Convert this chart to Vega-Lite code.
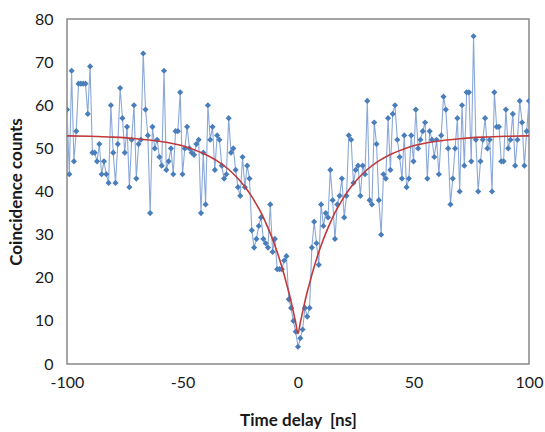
{
  "$schema": "https://vega.github.io/schema/vega-lite/v6.json",
  "width": 462,
  "height": 345,
  "autosize": {"type": "none"},
  "padding": {"left": 67, "top": 19, "right": 16, "bottom": 68},
  "background": "white",
  "config": {
    "view": {"stroke": "#888888", "strokeWidth": 1.5},
    "font": "Lato",
    "axis": {"grid": false, "domain": false, "ticks": false, "labelFlush": false, "labelFont": "Lato", "titleFont": "Lato", "labelColor": "#1a1a1a", "titleColor": "#1a1a1a", "labelFontSize": 16, "titleFontSize": 17, "titleFontWeight": "bold", "labelExpr": "datum.value + ''"}
  },
  "datasets": {
    "obs": [
      {"t": -100, "c": 59}, {"t": -99, "c": 44}, {"t": -98, "c": 68}, {"t": -97, "c": 47}, {"t": -96, "c": 54},
      {"t": -95, "c": 65}, {"t": -94, "c": 65}, {"t": -93, "c": 65}, {"t": -92, "c": 65}, {"t": -91, "c": 58},
      {"t": -90, "c": 69}, {"t": -89, "c": 49}, {"t": -88, "c": 49}, {"t": -87, "c": 47}, {"t": -86, "c": 51},
      {"t": -85, "c": 44}, {"t": -84, "c": 47}, {"t": -83, "c": 44}, {"t": -82, "c": 42}, {"t": -81, "c": 60},
      {"t": -80, "c": 49}, {"t": -79, "c": 42}, {"t": -78, "c": 51}, {"t": -77, "c": 64}, {"t": -76, "c": 57},
      {"t": -75, "c": 49}, {"t": -74, "c": 55}, {"t": -73, "c": 41}, {"t": -72, "c": 52}, {"t": -71, "c": 60},
      {"t": -70, "c": 43}, {"t": -69, "c": 51}, {"t": -68, "c": 52}, {"t": -67, "c": 72}, {"t": -66, "c": 59},
      {"t": -65, "c": 53}, {"t": -64, "c": 35}, {"t": -63, "c": 55}, {"t": -62, "c": 50}, {"t": -61, "c": 52},
      {"t": -60, "c": 48}, {"t": -59, "c": 46}, {"t": -58, "c": 68}, {"t": -57, "c": 45}, {"t": -56, "c": 47},
      {"t": -55, "c": 50}, {"t": -54, "c": 44}, {"t": -53, "c": 54}, {"t": -52, "c": 54}, {"t": -51, "c": 63},
      {"t": -50, "c": 44}, {"t": -49, "c": 50}, {"t": -48, "c": 55}, {"t": -47, "c": 50}, {"t": -46, "c": 49},
      {"t": -45, "c": 48.5}, {"t": -44, "c": 51}, {"t": -43, "c": 52}, {"t": -42, "c": 35}, {"t": -41, "c": 49},
      {"t": -40, "c": 37}, {"t": -39, "c": 60}, {"t": -38, "c": 52}, {"t": -37, "c": 55}, {"t": -36, "c": 45},
      {"t": -35, "c": 53}, {"t": -34, "c": 52}, {"t": -33, "c": 46}, {"t": -32, "c": 43}, {"t": -31, "c": 44},
      {"t": -30, "c": 57}, {"t": -29, "c": 49}, {"t": -28, "c": 50}, {"t": -27, "c": 45}, {"t": -26, "c": 41},
      {"t": -25, "c": 39}, {"t": -24, "c": 48}, {"t": -23, "c": 41}, {"t": -22, "c": 46}, {"t": -21, "c": 43},
      {"t": -20, "c": 31}, {"t": -19, "c": 27}, {"t": -18, "c": 29}, {"t": -17, "c": 32}, {"t": -16, "c": 34},
      {"t": -15, "c": 29}, {"t": -14, "c": 28}, {"t": -13, "c": 27}, {"t": -12, "c": 37}, {"t": -11, "c": 26},
      {"t": -10, "c": 29}, {"t": -9, "c": 22}, {"t": -8, "c": 22}, {"t": -7, "c": 22}, {"t": -6, "c": 24},
      {"t": -5, "c": 25}, {"t": -4, "c": 15}, {"t": -3, "c": 13}, {"t": -2, "c": 10}, {"t": -1, "c": 7.5},
      {"t": 0, "c": 4}, {"t": 1, "c": 6}, {"t": 2, "c": 8}, {"t": 3, "c": 13}, {"t": 4, "c": 11},
      {"t": 5, "c": 13}, {"t": 6, "c": 27}, {"t": 7, "c": 33}, {"t": 8, "c": 28}, {"t": 9, "c": 23},
      {"t": 10, "c": 37}, {"t": 11, "c": 32}, {"t": 12, "c": 35}, {"t": 13, "c": 34}, {"t": 14, "c": 45},
      {"t": 15, "c": 38}, {"t": 16, "c": 29}, {"t": 17, "c": 37}, {"t": 18, "c": 39}, {"t": 19, "c": 43},
      {"t": 20, "c": 34}, {"t": 21, "c": 39}, {"t": 22, "c": 53}, {"t": 23, "c": 52}, {"t": 24, "c": 42},
      {"t": 25, "c": 45}, {"t": 26, "c": 46}, {"t": 27, "c": 39}, {"t": 28, "c": 46}, {"t": 29, "c": 44},
      {"t": 30, "c": 61}, {"t": 31, "c": 38}, {"t": 32, "c": 37}, {"t": 33, "c": 56}, {"t": 34, "c": 51},
      {"t": 35, "c": 38}, {"t": 36, "c": 30}, {"t": 37, "c": 44}, {"t": 38, "c": 43}, {"t": 39, "c": 57},
      {"t": 40, "c": 45}, {"t": 41, "c": 58}, {"t": 42, "c": 60}, {"t": 43, "c": 52}, {"t": 44, "c": 48},
      {"t": 45, "c": 43}, {"t": 46, "c": 53}, {"t": 47, "c": 41}, {"t": 48, "c": 43}, {"t": 49, "c": 53},
      {"t": 50, "c": 47}, {"t": 51, "c": 59}, {"t": 52, "c": 50}, {"t": 53, "c": 52}, {"t": 54, "c": 54},
      {"t": 55, "c": 56}, {"t": 56, "c": 43}, {"t": 57, "c": 54}, {"t": 58, "c": 52}, {"t": 59, "c": 48},
      {"t": 60, "c": 52}, {"t": 61, "c": 44}, {"t": 62, "c": 53}, {"t": 63, "c": 62}, {"t": 64, "c": 59},
      {"t": 65, "c": 50}, {"t": 66, "c": 37}, {"t": 67, "c": 43}, {"t": 68, "c": 50}, {"t": 69, "c": 57},
      {"t": 70, "c": 40}, {"t": 71, "c": 60}, {"t": 72, "c": 46}, {"t": 73, "c": 63}, {"t": 74, "c": 63},
      {"t": 75, "c": 47}, {"t": 76, "c": 76}, {"t": 77, "c": 52}, {"t": 78, "c": 40}, {"t": 79, "c": 47},
      {"t": 80, "c": 52}, {"t": 81, "c": 57}, {"t": 82, "c": 50}, {"t": 83, "c": 52}, {"t": 84, "c": 40},
      {"t": 85, "c": 63}, {"t": 86, "c": 55}, {"t": 87, "c": 55}, {"t": 88, "c": 47}, {"t": 89, "c": 47},
      {"t": 90, "c": 59}, {"t": 91, "c": 50}, {"t": 92, "c": 52}, {"t": 93, "c": 58}, {"t": 94, "c": 46},
      {"t": 95, "c": 52}, {"t": 96, "c": 61}, {"t": 97, "c": 56}, {"t": 98, "c": 46}, {"t": 99, "c": 54},
      {"t": 100, "c": 61}
    ],
    "fit": [
      {"t": -100, "f": 52.9}, {"t": -90, "f": 52.8}, {"t": -80, "f": 52.6}, {"t": -70, "f": 52.25}, {"t": -60, "f": 51.65},
      {"t": -50, "f": 50.6}, {"t": -45, "f": 49.7}, {"t": -40, "f": 48.6}, {"t": -35, "f": 47.1}, {"t": -30, "f": 45.1},
      {"t": -26, "f": 43.0}, {"t": -23, "f": 41.1}, {"t": -20, "f": 38.8}, {"t": -18, "f": 37.0}, {"t": -16, "f": 35.1},
      {"t": -14, "f": 32.8}, {"t": -12, "f": 30.3}, {"t": -10, "f": 27.5}, {"t": -8, "f": 24.3}, {"t": -6, "f": 20.7},
      {"t": -5, "f": 18.7}, {"t": -4, "f": 16.7}, {"t": -3, "f": 14.5}, {"t": -2, "f": 12.1}, {"t": -1, "f": 9.6},
      {"t": 0, "f": 7.0},
      {"t": 1, "f": 9.6}, {"t": 2, "f": 12.1}, {"t": 3, "f": 14.5}, {"t": 4, "f": 16.7}, {"t": 5, "f": 18.7},
      {"t": 6, "f": 20.7}, {"t": 8, "f": 24.3}, {"t": 10, "f": 27.5}, {"t": 12, "f": 30.3}, {"t": 14, "f": 32.8},
      {"t": 16, "f": 35.1}, {"t": 18, "f": 37.0}, {"t": 20, "f": 38.8}, {"t": 23, "f": 41.1}, {"t": 26, "f": 43.0},
      {"t": 30, "f": 45.1}, {"t": 35, "f": 47.1}, {"t": 40, "f": 48.6}, {"t": 45, "f": 49.7}, {"t": 50, "f": 50.6},
      {"t": 60, "f": 51.65}, {"t": 70, "f": 52.25}, {"t": 80, "f": 52.6}, {"t": 90, "f": 52.8}, {"t": 100, "f": 52.9}
    ]
  },
  "layer": [
    {
      "data": {"name": "obs"},
      "mark": {"type": "line", "color": "#8aa8d8", "strokeWidth": 1.1, "clip": true},
      "encoding": {
        "x": {"field": "t", "type": "quantitative", "scale": {"domain": [-100, 100], "nice": false, "zero": false},
              "axis": {"values": [-100, -50, 0, 50, 100], "title": "Time delay\u00a0\u00a0[ns]", "labelPadding": 10, "titlePadding": 22}},
        "y": {"field": "c", "type": "quantitative", "scale": {"domain": [0, 80], "nice": false},
              "axis": {"values": [0, 10, 20, 30, 40, 50, 60, 70, 80], "title": "Coincidence counts", "labelPadding": 14, "titlePadding": 9}}
      }
    },
    {
      "data": {"name": "obs"},
      "mark": {"type": "point", "shape": "diamond", "filled": true, "color": "#4a7ebb", "size": 38, "opacity": 1, "clip": true},
      "encoding": {
        "x": {"field": "t", "type": "quantitative"},
        "y": {"field": "c", "type": "quantitative"}
      }
    },
    {
      "data": {"name": "fit"},
      "mark": {"type": "line", "color": "#c0393b", "strokeWidth": 1.6, "interpolate": "monotone"},
      "encoding": {
        "x": {"field": "t", "type": "quantitative"},
        "y": {"field": "f", "type": "quantitative"}
      }
    }
  ]
}
